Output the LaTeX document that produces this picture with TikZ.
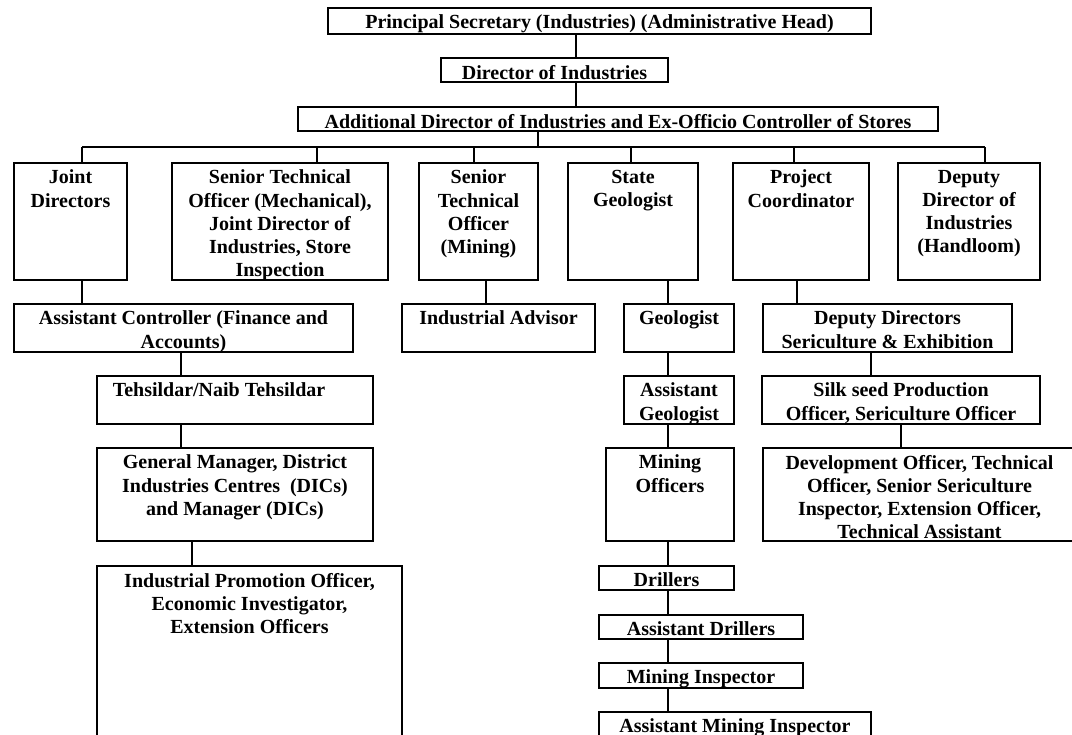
\documentclass[tikz,border=0pt]{standalone}
\usepackage{fontspec}
\setmainfont{Liberation Serif}
\usetikzlibrary{fit}
\begin{document}
\begin{tikzpicture}[x=0.6pt, y=-0.6pt, line width=1.2pt,
  box/.style={draw, inner sep=0pt, outer sep=0pt},
  txt/.style={anchor=north, align=center, inner sep=3.6pt, font=\bfseries\fontsize{12}{13.9}\selectfont}]
\useasboundingbox (0,0) rectangle (1072,734);
\clip (0,0) rectangle (1072,734);

% head of the department
\node[box, fit={(328,8) (871,34)}, label={[txt]north:Principal Secretary (Industries) (Administrative Head)}] (prin) {};
\node[box, fit={(441,58) (668,82)}, label={[txt]north:Director of Industries}] (dir) {};
\node[box, fit={(298,107) (938,131)}, label={[txt]north:Additional Director of Industries and Ex-Officio Controller of Stores}] (add) {};

% second level
\node[box, fit={(14,163) (127,280)}, label={[txt]north:Joint\\Directors}] (joint) {};
\node[box, fit={(172,163) (388,280)}, label={[txt]north:{Senior Technical\\Officer (Mechanical),\\Joint Director of\\Industries, Store\\Inspection}}] (stomech) {};
\node[box, fit={(419,163) (538,280)}, label={[txt]north:Senior\\Technical\\Officer\\(Mining)}] (stomin) {};
\node[box, fit={(568,163) (698,280)}, label={[txt]north:State\\Geologist}] (stgeo) {};
\node[box, fit={(733,163) (869,280)}, label={[txt]north:Project\\Coordinator}] (proj) {};
\node[box, fit={(898,163) (1040,280)}, label={[txt]north:Deputy\\Director of\\Industries\\(Handloom)}] (ddh) {};

% third level
\node[box, fit={(14,304) (353,352)}, label={[txt]north:Assistant Controller (Finance and\\Accounts)}] (accts) {};
\node[box, fit={(402,304) (595,352)}, label={[txt]north:Industrial Advisor}] (advisor) {};
\node[box, fit={(624,304) (734,352)}, label={[txt]north:Geologist}] (geo) {};
\node[box, fit={(763,304) (1012,352)}, label={[txt]north:Deputy Directors\\Sericulture \& Exhibition}] (ddse) {};

% lower levels
\node[box, fit={(97,376) (373,424)}, label={[txt, xshift=-9.6pt]north:Tehsildar/Naib Tehsildar}] (tehs) {};
\node[box, fit={(97,448) (373,541)}, label={[txt]north:{General Manager, District\\Industries Centres~ (DICs)\\and Manager (DICs)}}] (gm) {};
\node[box, fit={(97,566) (402,760)}, label={[txt]north:{Industrial Promotion Officer,\\Economic Investigator,\\Extension Officers}}] (ipo) {};
\node[box, fit={(624,376) (734,424)}, label={[txt]north:Assistant\\Geologist}] (ageo) {};
\node[box, fit={(606,448) (734,541)}, label={[txt]north:Mining\\Officers}] (mo) {};
\node[box, fit={(599,566) (734,590)}, label={[txt]north:Drillers}] (drill) {};
\node[box, fit={(599,615) (803,639)}, label={[txt]north:Assistant Drillers}] (adrill) {};
\node[box, fit={(599,663) (803,688)}, label={[txt]north:Mining Inspector}] (minsp) {};
\node[box, fit={(599,712) (871,760)}, label={[txt]north:Assistant Mining Inspector}] (aminsp) {};
\node[box, fit={(762,376) (1040,424)}, label={[txt]north:{Silk seed Production\\Officer, Sericulture Officer}}] (silk) {};
\node[box, fit={(763,448) (1076,541)}, label={[txt]north:{Development Officer, Technical\\Officer, Senior Sericulture\\Inspector, Extension Officer,\\Technical Assistant}}] (devoff) {};

% connectors
\draw (prin.south -| 576,0) -- (dir.north -| 576,0);
\draw (dir.south -| 576,0) -- (add.north -| 576,0);
\coordinate (bus) at (538,147);
\draw (add.south -| bus) -- (bus);
\draw (bus -| 82,0) -- (bus -| 985,0);
\foreach \n/\x in {joint/82, stomech/317, stomin/474, stgeo/631, proj/794, ddh/985}
  \draw (bus -| \x,0) -- (\n.north -| \x,0);
\foreach \a/\b/\x in {joint/accts/82, accts/tehs/181, tehs/gm/181, gm/ipo/192,
    stomin/advisor/486, stgeo/geo/668, geo/ageo/668, ageo/mo/668, mo/drill/668,
    drill/adrill/668, adrill/minsp/668, minsp/aminsp/668,
    proj/ddse/797, ddse/silk/871, silk/devoff/901}
  \draw (\a.south -| \x,0) -- (\b.north -| \x,0);
\end{tikzpicture}
\end{document}
